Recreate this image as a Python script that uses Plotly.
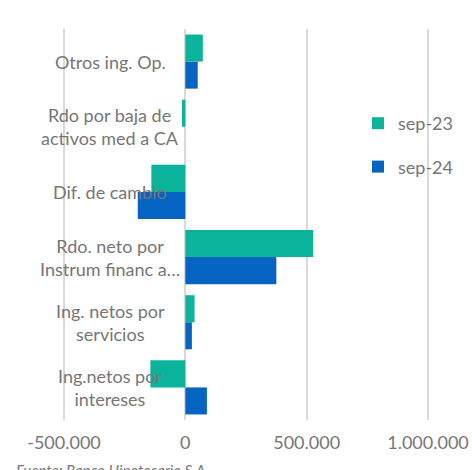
import plotly.graph_objects as go

categories = ["Ing.netos por<br>intereses", "Ing. netos por<br>servicios",
              "Rdo. neto por<br>Instrum financ a…", "Dif. de cambio",
              "Rdo por baja de<br>activos med a CA", "Otros ing. Op."]
sep23 = [-144000, 38000, 527000, -140000, -14000, 72000]
sep24 = [89000, 27000, 375000, -196000, 0, 51000]
series_names = ["sep-23", "sep-24"]
tick_vals = [-500000, 0, 500000, 1000000]
tick_text = ["-500.000", "0", "500.000", "1.000.000"]
source_note = "Fuente: Banco Hipotecario S.A."

GREEN = "#0BB39A"
BLUE = "#0563C1"
GRAY = "#767676"
FONT = "Lato, 'Open Sans', sans-serif"

W, H = 472, 470
ML, MR, MT, MB = 62, 42, 29, 50
pw = W - ML - MR
ph = H - MT - MB
pad_units = 2 * 1500000 / (pw - 4)  # 2px padding so edge gridlines are drawn


def px_x(x):
    return (x - ML) / pw


def px_y(y):
    return ((H - MB) - y) / ph


fig = go.Figure()
fig.add_trace(go.Bar(y=categories, x=sep24, orientation="h", name=series_names[1],
                     marker=dict(color=BLUE, line=dict(width=0)),
                     legendgroup="b", legendrank=2))
fig.add_trace(go.Bar(y=categories, x=sep23, orientation="h", name=series_names[0],
                     marker=dict(color=GREEN, line=dict(width=0)),
                     legendgroup="a", legendrank=1))

for c in categories:
    fig.add_annotation(x=px_x(110), xref="paper", y=c, yref="y", text=c,
                       showarrow=False, xanchor="center", yanchor="middle",
                       align="center", font=dict(family=FONT, size=18, color=GRAY))

fig.add_annotation(x=px_x(14), xref="paper", y=px_y(459), yref="paper",
                   text="<i>" + source_note + "</i>", showarrow=False,
                   xanchor="left", yanchor="top",
                   font=dict(family=FONT, size=15, color=GRAY))

fig.update_layout(
    width=W, height=H,
    margin=dict(l=ML, r=MR, t=MT, b=MB, autoexpand=False),
    paper_bgcolor="white", plot_bgcolor="white",
    barmode="group", bargap=0.17, bargroupgap=0,
    font=dict(family=FONT, size=18, color=GRAY),
    showlegend=True,
    legend=dict(x=px_x(358), y=px_y(105), xanchor="left", yanchor="top",
                traceorder="grouped", tracegroupgap=17,
                bgcolor="rgba(0,0,0,0)", font=dict(family=FONT, size=18, color=GRAY)),
    xaxis=dict(range=[-500000 - pad_units, 1000000 + pad_units],
               tickvals=tick_vals, ticktext=tick_text,
               showgrid=True, gridcolor="#D9D9D9", gridwidth=1.5,
               zeroline=True, zerolinecolor="#D9D9D9", zerolinewidth=1.5,
               showline=False, ticks="", fixedrange=True, automargin=False,
               ticklabelstandoff=10,
               tickfont=dict(family=FONT, size=18, color=GRAY)),
    yaxis=dict(categoryorder="array", categoryarray=categories, showticklabels=False,
               automargin=False, fixedrange=True,
               showgrid=False, zeroline=False, showline=False, ticks="", range=[-0.5, 5.5]),
)

fig.write_html("out.html",
               config={"displayModeBar": False},
               post_script="document.documentElement.style.margin='0';"
                           "document.body.style.margin='0';"
                           "document.body.style.overflow='hidden';")
